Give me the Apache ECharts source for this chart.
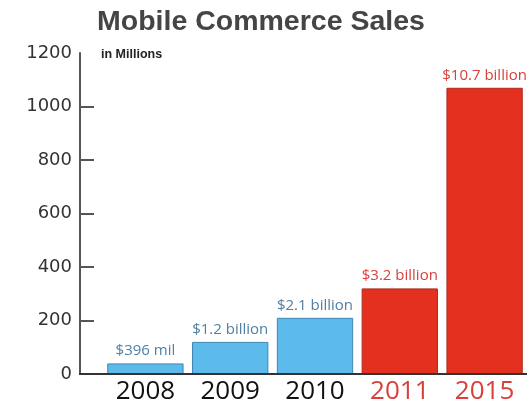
<!DOCTYPE html>
<html>
<head>
<meta charset="utf-8">
<style>
  html, body { margin: 0; padding: 0; background: #fff; }
  #chart { width: 529px; height: 412px; }
</style>
<script src="https://cdn.jsdelivr.net/npm/echarts@6/dist/echarts.min.js"></script>
</head>
<body>
<div id="chart"></div>
<script>
// Mobile commerce sales, values in tens of millions of dollars
const years = ['2008', '2009', '2010', '2011', '2015'];
const sales = [39.6, 120, 210, 320, 1070];
const valueLabels = ['$396 mil', '$1.2 billion', '$2.1 billion', '$3.2 billion', '$10.7 billion'];
const isForecast = [false, false, false, true, true];
const yTicks = [0, 200, 400, 600, 800, 1000, 1200];

const BLUE = '#5cbbea', BLUE_EDGE = '#3f86b3', BLUE_TEXT = '#4f7fa3';
const RED = '#e3301f', RED_EDGE = '#ac2a1c', RED_TEXT = '#d8403a';

const gridLeft = 103, gridRight = 2, gridTop = 53, gridBottom = 38, axisOffset = 23;

const unitsNote = {
  type: 'text',
  left: 101,
  top: 48,
  style: { text: 'in Millions', font: 'bold 12.5px "Liberation Sans"', fill: '#222' }
};

const chart = echarts.init(document.getElementById('chart'), null, { renderer: 'canvas' });

chart.setOption({
  backgroundColor: '#fff',
  animation: false,
  title: {
    text: 'Mobile Commerce Sales',
    left: 92,
    top: 3,
    textStyle: { fontFamily: 'Liberation Sans', fontWeight: 'bold', fontSize: 28.5, color: '#454545' }
  },
  graphic: [unitsNote],
  grid: { left: gridLeft, right: gridRight, top: gridTop, bottom: gridBottom },
  xAxis: {
    type: 'category',
    data: years.map((y, i) => ({
      value: y,
      textStyle: { color: isForecast[i] ? RED_TEXT : '#111' }
    })),
    axisLine: { show: false },
    axisTick: { show: false },
    axisLabel: { fontFamily: 'Open Sans', fontSize: 26, margin: 5 }
  },
  yAxis: {
    type: 'value',
    min: 0,
    max: 1200,
    interval: 200,
    offset: axisOffset,
    splitLine: { show: false },
    axisLine: { show: true, lineStyle: { color: '#555', width: 2 } },
    axisTick: {
      show: true, inside: true, length: 14,
      customValues: yTicks.slice(1, -1),
      lineStyle: { color: '#555', width: 2 }
    },
    axisLabel: {
      customValues: yTicks,
      formatter: v => String(v),
      fontFamily: 'DejaVu Sans', fontSize: 18, color: '#333', margin: 8
    }
  },
  series: [{
    type: 'bar',
    barCategoryGap: '10%',
    data: sales.map((v, i) => ({
      value: v,
      itemStyle: {
        color: isForecast[i] ? RED : BLUE,
        borderColor: isForecast[i] ? RED_EDGE : BLUE_EDGE,
        borderWidth: 1
      },
      label: { color: isForecast[i] ? RED_TEXT : BLUE_TEXT }
    })),
    label: {
      show: true,
      position: 'top',
      distance: 5,
      fontFamily: 'Open Sans',
      fontSize: 15,
      formatter: p => valueLabels[p.dataIndex]
    }
  }]
});

// Baseline runs from the offset value axis across the whole plot
const zeroY = chart.convertToPixel({ yAxisIndex: 0 }, 0);
chart.setOption({
  graphic: [unitsNote, {
    type: 'line',
    shape: { x1: gridLeft - axisOffset - 1, y1: zeroY, x2: 529 - gridRight, y2: zeroY },
    style: { stroke: '#333', lineWidth: 2 },
    z: 10
  }]
});
</script>
</body>
</html>
